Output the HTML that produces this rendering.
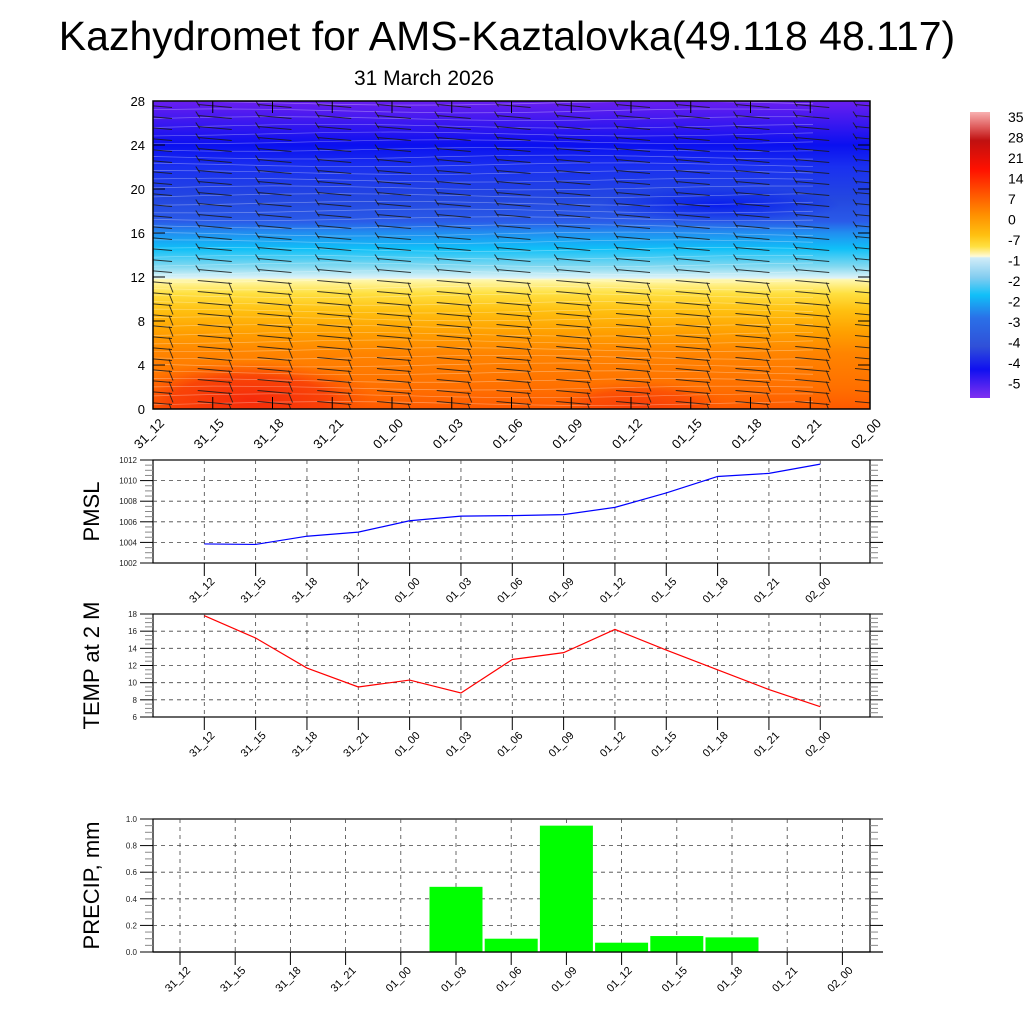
<!DOCTYPE html>
<html><head><meta charset="utf-8"><style>
body{margin:0;background:#fff;width:1024px;height:1024px;overflow:hidden}
svg{font-family:"Liberation Sans",sans-serif}
</style></head><body>
<svg id="s" width="1024" height="1024" viewBox="0 0 1024 1024" xmlns="http://www.w3.org/2000/svg">
<defs>
<linearGradient id="tg" x1="0" y1="0" x2="0" y2="1">
<stop offset="0" stop-color="#6a1ef0"/>
<stop offset="0.071" stop-color="#3a18f0"/>
<stop offset="0.143" stop-color="#0a10f0"/>
<stop offset="0.214" stop-color="#1a30f0"/>
<stop offset="0.32" stop-color="#2448e0"/>
<stop offset="0.39" stop-color="#2a5ae8"/>
<stop offset="0.43" stop-color="#2090f0"/>
<stop offset="0.48" stop-color="#10c0f8"/>
<stop offset="0.536" stop-color="#80d8f0"/>
<stop offset="0.575" stop-color="#e0f4f8"/>
<stop offset="0.58" stop-color="#fff8b0"/>
<stop offset="0.625" stop-color="#ffe040"/>
<stop offset="0.68" stop-color="#ffc010"/>
<stop offset="0.75" stop-color="#ffa000"/>
<stop offset="0.82" stop-color="#ff8400"/>
<stop offset="0.93" stop-color="#ff7000"/>
<stop offset="1" stop-color="#ff5a00"/>
</linearGradient>
<radialGradient id="rb" cx="0.5" cy="0.5" r="0.5">
<stop offset="0" stop-color="#f52a0a" stop-opacity="1"/>
<stop offset="0.6" stop-color="#f83a08" stop-opacity="0.8"/>
<stop offset="1" stop-color="#ff5a00" stop-opacity="0"/>
</radialGradient>
<radialGradient id="db" cx="0.5" cy="0.5" r="0.5">
<stop offset="0" stop-color="#0010f0" stop-opacity="1"/>
<stop offset="1" stop-color="#0010f0" stop-opacity="0"/>
</radialGradient>
<linearGradient id="cb" x1="0" y1="0" x2="0" y2="1">
<stop offset="0" stop-color="#f8b0b0"/>
<stop offset="0.05" stop-color="#e06060"/>
<stop offset="0.1" stop-color="#c01010"/>
<stop offset="0.2" stop-color="#ff1000"/>
<stop offset="0.28" stop-color="#ff5000"/>
<stop offset="0.36" stop-color="#ff9000"/>
<stop offset="0.43" stop-color="#ffc010"/>
<stop offset="0.47" stop-color="#ffe040"/>
<stop offset="0.505" stop-color="#fffad8"/>
<stop offset="0.51" stop-color="#d0ecf8"/>
<stop offset="0.58" stop-color="#80ccf0"/>
<stop offset="0.64" stop-color="#10c0f8"/>
<stop offset="0.72" stop-color="#2a70e8"/>
<stop offset="0.82" stop-color="#3050d8"/>
<stop offset="0.9" stop-color="#1010f0"/>
<stop offset="1" stop-color="#8030f0"/>
</linearGradient>
<clipPath id="cp"><rect x="153" y="101" width="717" height="308"/></clipPath>
</defs>
<text x="507" y="50" font-size="41" text-anchor="middle">Kazhydromet for AMS-Kaztalovka(49.118 48.117)</text>
<text x="424" y="85" font-size="21" text-anchor="middle">31 March 2026</text>
<g clip-path="url(#cp)">
<rect x="153" y="101" width="717" height="308" fill="url(#tg)"/>
<ellipse cx="250" cy="400" rx="130" ry="40" fill="url(#rb)"/>
<ellipse cx="640" cy="405" rx="90" ry="25" fill="url(#rb)" opacity="0.6"/>
<ellipse cx="720" cy="205" rx="120" ry="18" fill="url(#db)" opacity="0.8"/>
<g id="iso" stroke="#ffffff" stroke-opacity="0.35" stroke-width="0.7" fill="none"></g>
<g id="barbs" stroke="#1a1a1a" stroke-opacity="0.85" stroke-width="1" fill="none"></g>
</g>
<rect x="153" y="101" width="717" height="308" fill="none" stroke="#000" stroke-width="1.5"/>
<g id="topax" font-size="13"></g>
<rect x="970" y="112" width="20" height="286" fill="url(#cb)"/>
<g id="cbl" font-size="14"></g>
<g id="low"></g>
</svg>
<script>
(function(){
const NS="http://www.w3.org/2000/svg";
function el(p,t,a,txt){const e=document.createElementNS(NS,t);for(const k in a)e.setAttribute(k,a[k]);if(txt!==undefined)e.textContent=txt;p.appendChild(e);return e;}
const labs=["31_12","31_15","31_18","31_21","01_00","01_03","01_06","01_09","01_12","01_15","01_18","01_21","02_00"];
const tp=document.getElementById('topax');
for(let h=0;h<=28;h+=4){const y=409-h*11;el(tp,'text',{x:145,y:y+5,'text-anchor':'end'},h);el(tp,'line',{x1:153,y1:y,x2:165,y2:y,stroke:'#000'});el(tp,'line',{x1:870,y1:y,x2:858,y2:y,stroke:'#000'});}
for(let i=0;i<13;i++){const x=153+i*59.75;el(tp,'line',{x1:x,y1:409,x2:x,y2:397,stroke:'#000'});el(tp,'line',{x1:x,y1:101,x2:x,y2:113,stroke:'#000'});
const lx=x+12,ly=424;el(tp,'text',{x:lx,y:ly,'text-anchor':'end',transform:`rotate(-45 ${lx} ${ly})`},labs[i]);}
const iso=document.getElementById('iso');
for(let h=0.5;h<28;h+=0.7){const y=409-h*11;let d=`M153 ${y}`;for(let x=153;x<=870;x+=60){d+=` L${x} ${y+Math.sin(x/80+h)*2}`;}el(iso,'path',{d:d});}
const bb=document.getElementById('barbs');
for(let i=0;i<13;i++){const xc=153+i*59.75;for(let h=0.5;h<28;h+=1){const y=409-h*11;
 const x0=xc-15;
 el(bb,'line',{x1:x0,y1:y-2,x2:x0+34,y2:y+1});
 el(bb,'line',{x1:x0+(h<12?31:2),y1:y,x2:x0+(h<12?35:-2),y2:y+(h<12?10:-6)});
}}
const cbl=document.getElementById('cbl');
["35","28","21","14","7","0","-7","-1","-2","-2","-3","-4","-4","-5"].forEach((t,i)=>el(cbl,'text',{x:1008,y:122+i*20.5},t));
const low=document.getElementById('low');
function panel(y0,y1,vmin,vmax,step,minor,title,dataX0,dstep,decimals){
 el(low,'rect',{x:153,y:y0,width:717,height:y1-y0,fill:'none',stroke:'#000','stroke-width':1.2});
 const sc=(y1-y0)/(vmax-vmin);
 const n=Math.round((vmax-vmin)/minor);
 for(let k=0;k<=n;k++){const v=vmin+k*minor;const y=y1-(v-vmin)*sc;const maj=(k%Math.round(step/minor))===0;
  el(low,'line',{x1:153,y1:y,x2:maj?140:145,y2:y,stroke:maj?'#000':'#888'});
  el(low,'line',{x1:870,y1:y,x2:maj?883:878,y2:y,stroke:maj?'#000':'#888'});
  if(maj){el(low,'text',{x:137,y:y+3,'font-size':8,'text-anchor':'end',fill:'#222'},v.toFixed(decimals));
   if(k>0&&k<n)el(low,'line',{x1:153,y1:y,x2:870,y2:y,stroke:'#444','stroke-dasharray':'4 4','stroke-width':0.8});}
 }
 for(let i=0;i<13;i++){const x=dataX0+i*dstep;
  el(low,'line',{x1:x,y1:y0,x2:x,y2:y1,stroke:'#444','stroke-dasharray':'4 4','stroke-width':0.8});
  el(low,'line',{x1:x,y1:y1,x2:x,y2:y1+13,stroke:'#000'});
  const lx=x+11,ly=y1+19;el(low,'text',{x:lx,y:ly,'font-size':11,'text-anchor':'end',transform:`rotate(-45 ${lx} ${ly})`},labs[i]);}
 el(low,'text',{x:0,y:0,'font-size':22,'text-anchor':'middle',transform:`translate(99 ${(y0+y1)/2}) rotate(-90)`},title);
 return v=>y1-(v-vmin)*sc;
}
let f=panel(460,563,1002,1012,2,0.5,'PMSL',204.3,51.33,0);
const pm=[1003.85,1003.8,1004.6,1005.0,1006.1,1006.55,1006.6,1006.7,1007.4,1008.8,1010.4,1010.7,1011.6];
el(low,'polyline',{points:pm.map((v,i)=>(204.3+i*51.33)+','+f(v)).join(' '),fill:'none',stroke:'#0000ff','stroke-width':1.2});
f=panel(614,717,6,18,2,0.5,'TEMP at 2 M',204.3,51.33,0);
const tm=[17.8,15.2,11.7,9.5,10.3,8.8,12.7,13.5,16.2,13.8,11.5,9.2,7.2];
el(low,'polyline',{points:tm.map((v,i)=>(204.3+i*51.33)+','+f(v)).join(' '),fill:'none',stroke:'#ff0000','stroke-width':1.2});
f=panel(819,952,0,1,0.2,0.05,'PRECIP, mm',180,55.2,1);
const pr=[0,0,0,0,0,0.49,0.1,0.95,0.07,0.12,0.11,0,0];
pr.forEach((v,i)=>{if(v>0){const x=180+i*55.2;el(low,'rect',{x:x-26.5,y:f(v),width:53,height:952-f(v),fill:'#00ff00'});}});
el(low,'line',{x1:153,y1:952,x2:883,y2:952,stroke:'#000','stroke-width':1.2});
})();
</script>
</body></html>
